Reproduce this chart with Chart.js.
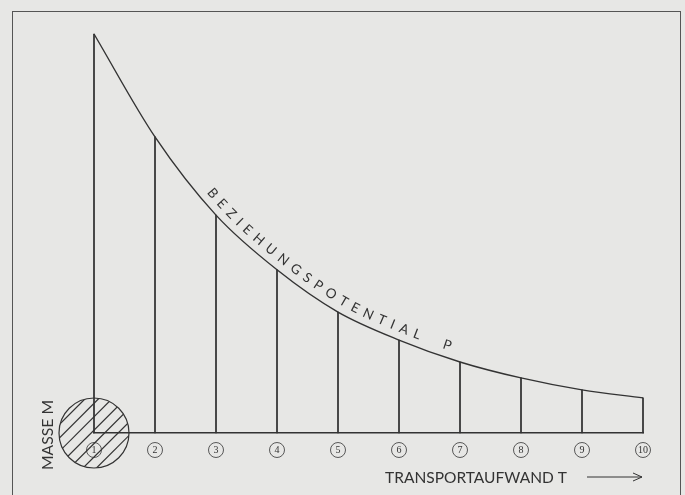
<!DOCTYPE html>
<html>
<head>
<meta charset="utf-8">
<script src="https://cdn.jsdelivr.net/npm/chart.js@4"></script>
<style>
  html, body { margin: 0; padding: 0; background: #e7e7e5; }
  #wrap { position: relative; width: 685px; height: 495px; }
  #frame { position: absolute; left: 12px; top: 11px; width: 669px; height: 500px;
           border: 1.3px solid #555; box-sizing: border-box; }
</style>
</head>
<body>
<div id="wrap">
  <div id="frame"></div>
  <canvas id="myChart" width="685" height="495"></canvas>
</div>
<script>
// Transport effort steps and the interaction potential P at each step
const xLabels = ['1', '2', '3', '4', '5', '6', '7', '8', '9', '10'];
const steps = [1, 2, 3, 4, 5, 6, 7, 8, 9, 10];
const potential = [100, 74.2, 54.6, 40.9, 30.3, 23.3, 17.8, 13.8, 10.8, 8.8];

const curveLabel = 'BEZIEHUNGSPOTENTIAL';
const curveLabelEnd = 'P';
const xTitle = 'TRANSPORTAUFWAND T';
const massTitle = 'MASSE M';

const ink = '#333333';
const font = 'Lato, "Liberation Sans", sans-serif';

// sample the drawn spline of the line dataset
function sampleCurve(points) {
  const out = [];
  for (let i = 0; i < points.length - 1; i++) {
    const a = points[i], b = points[i + 1];
    const c1x = a.cp2x ?? a.x, c1y = a.cp2y ?? a.y;
    const c2x = b.cp1x ?? b.x, c2y = b.cp1y ?? b.y;
    for (let k = 0; k < 40; k++) {
      const t = k / 40, u = 1 - t;
      out.push({
        x: u*u*u*a.x + 3*u*u*t*c1x + 3*u*t*t*c2x + t*t*t*b.x,
        y: u*u*u*a.y + 3*u*u*t*c1y + 3*u*t*t*c2y + t*t*t*b.y
      });
    }
  }
  const last = points[points.length - 1];
  out.push({ x: last.x, y: last.y });
  let s = 0;
  out[0].s = 0;
  for (let i = 1; i < out.length; i++) {
    s += Math.hypot(out[i].x - out[i-1].x, out[i].y - out[i-1].y);
    out[i].s = s;
  }
  return out;
}

function pointAt(samples, s) {
  for (let i = 1; i < samples.length; i++) {
    if (samples[i].s >= s) {
      const a = samples[i-1], b = samples[i];
      const f = (s - a.s) / ((b.s - a.s) || 1);
      const ang = Math.atan2(b.y - a.y, b.x - a.x);
      return { x: a.x + (b.x - a.x) * f, y: a.y + (b.y - a.y) * f, ang };
    }
  }
  const n = samples.length;
  const a = samples[n-2], b = samples[n-1];
  return { x: b.x, y: b.y, ang: Math.atan2(b.y - a.y, b.x - a.x) };
}

const decorPlugin = {
  id: 'decor',
  afterDatasetsDraw(chart) {
    const ctx = chart.ctx;
    const xs = chart.scales.x, ys = chart.scales.y;
    const y0 = ys.getPixelForValue(0);
    ctx.save();
    ctx.strokeStyle = ink;
    ctx.fillStyle = ink;

    // hatched mass circle at step 1
    const cx = xs.getPixelForValue(steps[0]);
    const r = 35;
    ctx.lineWidth = 1.2;
    ctx.beginPath();
    ctx.arc(cx, y0, r, 0, Math.PI * 2);
    ctx.stroke();
    ctx.save();
    ctx.beginPath();
    ctx.arc(cx, y0, r, 0, Math.PI * 2);
    ctx.clip();
    ctx.lineWidth = 1.2;
    const gap = 9.5 * Math.SQRT2;
    for (let d = -2 * r; d <= 2 * r; d += gap) {
      ctx.beginPath();
      ctx.moveTo(cx + d - r, y0 + r);
      ctx.lineTo(cx + d + r, y0 - r);
      ctx.stroke();
    }
    ctx.restore();

    // circled step numbers
    ctx.lineWidth = 0.8;
    ctx.textAlign = 'center';
    ctx.textBaseline = 'middle';
    ctx.font = '10px "Liberation Serif", serif';
    steps.forEach((v, i) => {
      const px = xs.getPixelForValue(v);
      const py = y0 + 17;
      ctx.beginPath();
      ctx.arc(px, py, 7.5, 0, Math.PI * 2);
      ctx.stroke();
      ctx.fillText(xLabels[i], px, py + 0.5, 11);
    });

    // label along the curve
    const meta = chart.getDatasetMeta(0);
    const samples = sampleCurve(meta.data);
    const startX = xs.getPixelForValue(2.75);
    let s = samples.find(p => p.x >= startX).s;
    ctx.font = '13.5px ' + font;
    const drawChar = (ch) => {
      const w = ctx.measureText(ch).width;
      const p = pointAt(samples, s + w / 2);
      const nx = Math.sin(p.ang), ny = -Math.cos(p.ang);
      ctx.save();
      ctx.translate(p.x + nx * 12, p.y + ny * 12);
      ctx.rotate(p.ang);
      ctx.fillText(ch, 0, 0);
      ctx.restore();
      s += w + 6;
    };
    for (const ch of curveLabel) drawChar(ch);
    s += 19;
    drawChar(curveLabelEnd);

    // axis captions
    ctx.font = '16px ' + font;
    ctx.textAlign = 'left';
    ctx.textBaseline = 'middle';
    ctx.fillText(xTitle, 385, 478, 182);
    ctx.lineWidth = 1;
    ctx.beginPath();
    ctx.moveTo(587, 477);
    ctx.lineTo(642, 477);
    ctx.moveTo(633, 473);
    ctx.lineTo(642, 477);
    ctx.lineTo(633, 481);
    ctx.stroke();

    ctx.save();
    ctx.translate(48, 435);
    ctx.rotate(-Math.PI / 2);
    ctx.textAlign = 'center';
    ctx.fillText(massTitle, 0, 0, 70);
    ctx.restore();

    ctx.restore();
  }
};

const ctx = document.getElementById('myChart').getContext('2d');
const myChart = new Chart(ctx, {
  type: 'line',
  data: {
    datasets: [{
      type: 'line',
      data: steps.map((x, i) => ({ x, y: potential[i] })),
      borderColor: ink,
      borderWidth: 1.4,
      pointRadius: 0,
      cubicInterpolationMode: 'monotone',
      clip: false
    }, {
      type: 'bar',
      data: steps.map((x, i) => ({ x, y: potential[i] })),
      backgroundColor: ink,
      barThickness: 1.1,
      clip: false
    }]
  },
  options: {
    responsive: false,
    animation: false,
    layout: { padding: { left: 94, right: 42, top: 34, bottom: 62 } },
    plugins: { legend: { display: false }, tooltip: { enabled: false } },
    scales: {
      x: {
        type: 'linear', min: 1, max: 10, offset: false,
        ticks: { display: false },
        grid: { display: false, drawTicks: false },
        border: { display: true, color: ink, width: 1.4 }
      },
      y: { display: false, min: 0, max: 100 }
    }
  },
  plugins: [decorPlugin]
});
</script>
</body>
</html>
